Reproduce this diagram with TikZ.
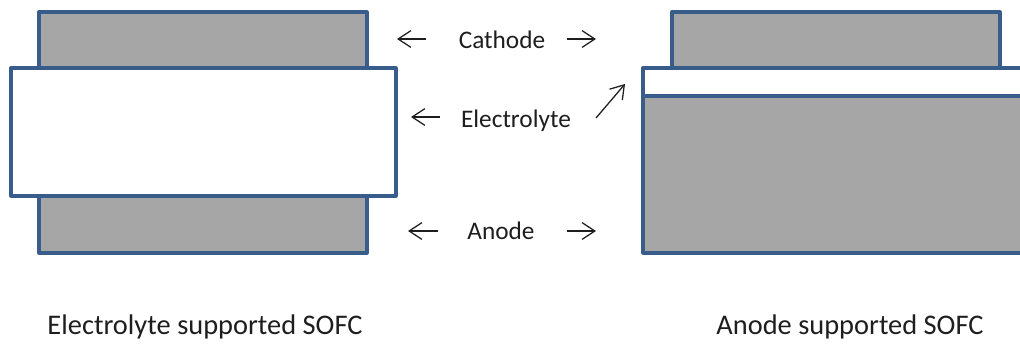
\documentclass[tikz,border=0pt]{standalone}
\usepackage{fontspec}
\setmainfont{Carlito}
\usepackage{tikz}
\usetikzlibrary{arrows.meta}
\definecolor{layerblue}{RGB}{56, 93, 138}
\definecolor{layergray}{RGB}{166, 166, 166}
\definecolor{textdark}{RGB}{30, 30, 30}

\begin{document}
\begin{tikzpicture}[
    x=0.025cm, y=-0.025cm,
    layer/.style={draw=layerblue, line width=2.3pt, line join=round},
    porous/.style={layer, fill=layergray},
    dense/.style={layer, fill=white},
    label/.style={font=\fontsize{18}{22}\selectfont, text=textdark, anchor=base,
                  inner sep=0pt},
    caption/.style={label, font=\fontsize{20.2}{24}\selectfont},
    pointer/.style={-{Straight Barb[length=0.32cm, width=0.42cm]}, line width=0.9pt,
                    textdark}
]
    \useasboundingbox (0,0) rectangle (1020,343);
    \clip (0,0) rectangle (1020,343);

    % Electrolyte supported cell
    \draw[porous] (39,12) rectangle (367,68);
    \draw[porous] (39,196) rectangle (367,253);
    \draw[dense] (11,68) rectangle (396,196);

    % Anode supported cell
    \draw[porous] (672,12) rectangle (1000,68);
    \draw[dense] (643,68) rectangle (1040,96);
    \draw[porous] (643,96) rectangle (1040,253);

    % Layer names
    \node[label] (cathode) at (502,48) {Cathode};
    \node[label] (electrolyte) at (516,127) {Electrolyte};
    \node[label] (anode) at (501,239) {Anode};

    % Captions
    \node[caption] (esofc) at (205,334) {Electrolyte supported SOFC};
    \node[caption] (asofc) at (850,334) {Anode supported SOFC};

    % Arrow ends
    \coordinate (cat-l1) at (426,39);
    \coordinate (cat-l2) at (397,39);
    \coordinate (cat-r1) at (567,39);
    \coordinate (cat-r2) at (596,39);
    \coordinate (ely-l1) at (440,117);
    \coordinate (ely-l2) at (411,117);
    \coordinate (ely-r1) at (596,118);
    \coordinate (ely-r2) at (625,84);
    \coordinate (ano-l1) at (438,231);
    \coordinate (ano-l2) at (408,231);
    \coordinate (ano-r1) at (567,231);
    \coordinate (ano-r2) at (596,231);

    % Arrows
    \draw[pointer] (cat-l1) -- (cat-l2);
    \draw[pointer] (cat-r1) -- (cat-r2);
    \draw[pointer] (ely-l1) -- (ely-l2);
    \draw[pointer] (ely-r1) -- (ely-r2);
    \draw[pointer] (ano-l1) -- (ano-l2);
    \draw[pointer] (ano-r1) -- (ano-r2);
\end{tikzpicture}
\end{document}
